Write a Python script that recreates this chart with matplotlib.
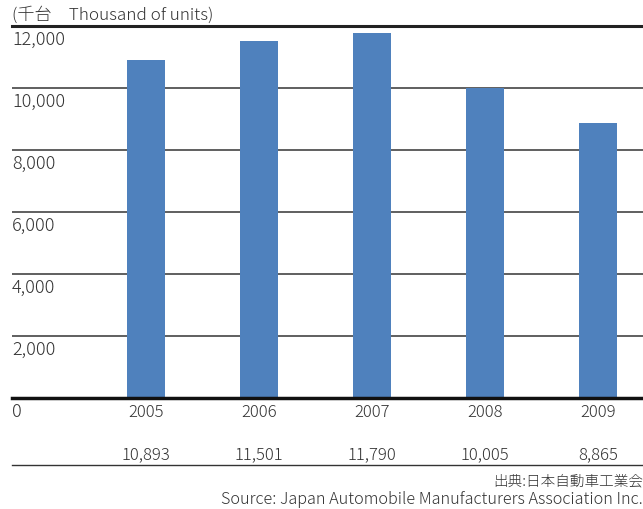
"""Japan motor vehicle production 2005-2009, bar chart."""

import matplotlib

matplotlib.use("Agg")

import matplotlib.pyplot as plt
import matplotlib.transforms as mtransforms

years = ["2005", "2006", "2007", "2008", "2009"]
production = [10893, 11501, 11790, 10005, 8865]
value_labels = ["10,893", "11,501", "11,790", "10,005", "8,865"]
y_ticks = [0, 2000, 4000, 6000, 8000, 10000, 12000]
y_tick_labels = ["0", "2,000", "4,000", "6,000", "8,000", "10,000", "12,000"]

unit_label = "(千台\u3000Thousand of units)"
source_ja = "出典:日本自動車工業会"
source_en = "Source: Japan Automobile Manufacturers Association Inc."

BAR_COLOR = "#4f81bd"
TEXT_COLOR = "#333333"

plt.rcParams["font.family"] = ["Noto Sans CJK JP", "DejaVu Sans"]
plt.rcParams["font.weight"] = "light"

W, H = 643, 510
fig = plt.figure(figsize=(W / 100, H / 100), dpi=100)
# axes from x=12..643 px, y=27..399 px
axis = fig.add_axes([12 / W, 1 - 399 / H, (W - 12) / W, (399 - 27) / H])

x = list(range(len(years)))
axis.bar(x, production, width=0.336, color=BAR_COLOR, zorder=3)
axis.set_xlim(-1.186, 4.398)
axis.set_ylim(0, 12000)

for value in y_ticks[1:-1]:
    axis.axhline(value, color="#444444", linewidth=1.2, zorder=2)
axis.axhline(12000, color="#222222", linewidth=2.2, zorder=4, clip_on=False)
axis.axhline(0, color="#111111", linewidth=2.5, zorder=4, clip_on=False)

for spine in axis.spines.values():
    spine.set_visible(False)
axis.set_yticks([])
axis.set_xticks(x)
axis.set_xticklabels(years, fontsize=12, color=TEXT_COLOR)
axis.tick_params(axis="x", length=0, pad=3.5)

# y labels sit just below their gridline, at the left edge
label_transform = axis.get_yaxis_transform() + mtransforms.ScaledTranslation(
    0, -4 / 100, fig.dpi_scale_trans
)
for value, text in zip(y_ticks, y_tick_labels):
    axis.text(0, value, text, transform=label_transform, ha="left", va="top",
              fontsize=13, color=TEXT_COLOR, clip_on=False)

value_transform = mtransforms.blended_transform_factory(axis.transData, fig.transFigure)
for position, text in zip(x, value_labels):
    fig.text(position, 1 - 455 / H, text, transform=value_transform, ha="center", va="center",
             fontsize=12, color=TEXT_COLOR)

fig.add_artist(plt.Line2D([12 / W, 1], [1 - 466 / H] * 2, color="#333333", linewidth=1.0))

fig.text(12 / W, 1 - 15 / H, unit_label, ha="left", va="center", fontsize=12.3, color=TEXT_COLOR)
fig.text(1, 1 - 481 / H, source_ja, ha="right", va="center", fontsize=10.5, color=TEXT_COLOR)
fig.text(1, 1 - 500 / H, source_en, ha="right", va="center", fontsize=11.7, color=TEXT_COLOR)

fig.savefig("out.png", dpi=100)
plt.close(fig)
